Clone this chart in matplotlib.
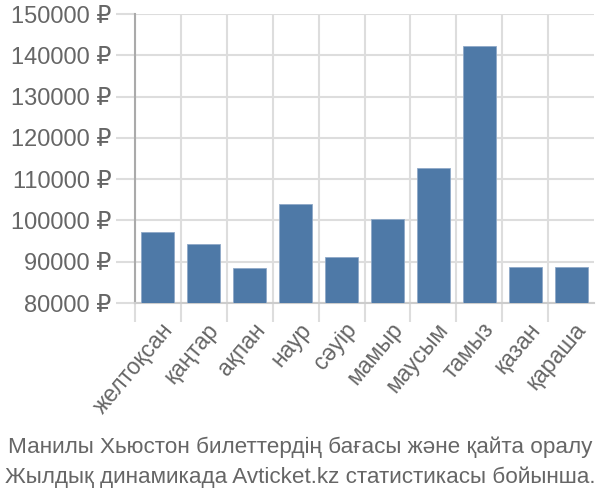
import numpy as np
import matplotlib.pyplot as plt

months = ["желтоқсан", "қаңтар", "ақпан", "наур", "сәуір", "мамыр",
          "маусым", "тамыз", "қазан", "қараша"]
prices = [97200, 94300, 88500, 104000, 91200, 100300, 112600, 142150, 88600, 88600]
yticks = [80000, 90000, 100000, 110000, 120000, 130000, 140000, 150000]
caption = ["Манилы Хьюстон билеттердің бағасы және қайта оралу",
           "Жылдық динамикада Avticket.kz статистикасы бойынша."]

plt.rcParams['font.family'] = ['Liberation Sans', 'DejaVu Sans']

fig = plt.figure(figsize=(6, 5), dpi=100)
ax = fig.add_axes([0.225, 0.394, 0.765, 0.578])

x = np.arange(len(months))
ax.bar(x, [p - 80000 for p in prices], bottom=80000, width=0.72,
       color="#4e79a7", edgecolor="#8fa9c8", linewidth=0.6, zorder=3)

ax.set_xlim(-0.5, len(months) - 0.5)
ax.set_ylim(80000, 150000)
ax.set_yticks(yticks)
ax.set_yticklabels([f"{t} ₽" for t in yticks], fontsize=17, color="#666666")

# gridlines sit between categories
ax.set_xticks(x - 0.5, minor=False)
ax.set_xticklabels([])
ax.set_xticks(x + 0.05, minor=True)
ax.set_xticklabels(months, minor=True, rotation=50, ha="right",
                   rotation_mode="anchor", fontsize=16.5, color="#666666")
ax.tick_params(axis="x", which="minor", length=0, pad=11)
ax.tick_params(axis="x", which="major", length=14, color="#dddddd", width=1.5)
ax.tick_params(axis="y", length=14, color="#dddddd", width=1.5, pad=3)

ax.grid(True, color="#dddddd", linewidth=1.5, zorder=0)
for s in ["top", "right"]:
    ax.spines[s].set_visible(False)
ax.spines["left"].set_color("#aaaaaa")
ax.spines["left"].set_linewidth(1.5)
ax.spines["left"].set_bounds(80000, 150000)
ax.spines["bottom"].set_color("#cccccc")
ax.spines["bottom"].set_linewidth(1.5)

fig.text(0.5, 0.106, caption[0], ha="center", va="center", fontsize=16.2, color="#666666")
fig.text(0.5, 0.046, caption[1], ha="center", va="center", fontsize=16.2, color="#666666")

fig.savefig("out.png", dpi=100)
